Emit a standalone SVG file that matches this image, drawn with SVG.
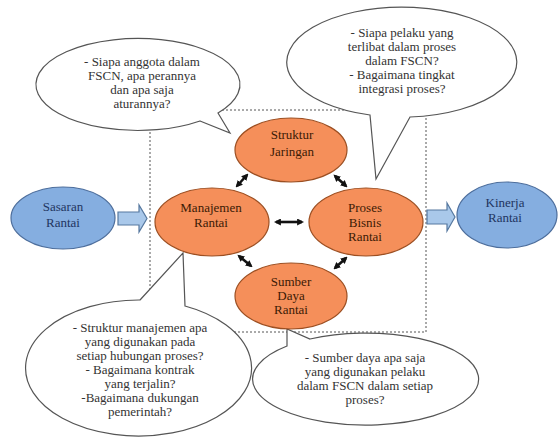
<svg xmlns="http://www.w3.org/2000/svg" width="558" height="438" viewBox="0 0 558 438">
<defs>
<marker id="ah" viewBox="0 0 10 10" refX="7" refY="5" markerUnits="userSpaceOnUse" markerWidth="7" markerHeight="7" orient="auto-start-reverse">
<path d="M0,0 L10,5 L0,10 z" fill="#111"/>
</marker>
<style>
.bubble{fill:#fff;stroke:#555;stroke-width:1.2}
.btxt{font-family:"Liberation Serif","Times New Roman",serif;font-size:13px;fill:#333;text-anchor:middle}
.org{fill:#f58f5a;stroke:#9c4f22;stroke-width:1.2}
.blu{fill:#85aee0;stroke:#4d6e9c;stroke-width:1.2}
.otxt{font-family:"Liberation Serif","Times New Roman",serif;font-size:13px;fill:#3b1a05;text-anchor:middle}
.bltxt{font-family:"Liberation Serif","Times New Roman",serif;font-size:13px;fill:#1f3560;text-anchor:middle}
.dbl{stroke:#111;stroke-width:2.6;fill:none;marker-start:url(#ah);marker-end:url(#ah)}
.blk{fill:#a9c8ea;stroke:#56789f;stroke-width:1.2}
</style>
</defs>
<rect id="boundary" x="150" y="110" width="276" height="222" fill="none" stroke="#555" stroke-width="1" stroke-dasharray="2,2"/>

<g id="callout-top-left">
<path class="bubble" d="M 200 121 L 230 133 L 218 113 A 102 46 0 1 0 200 121 Z"/>
<text class="btxt" x="142" y="66">- Siapa anggota dalam</text>
<text class="btxt" x="142" y="80">FSCN, apa perannya</text>
<text class="btxt" x="142" y="94">dan  apa saja</text>
<text class="btxt" x="142" y="108">aturannya?</text>
</g>

<g id="callout-top-right">
<path class="bubble" d="M 370 115 L 376 179 L 410 117 A 115 55 0 1 0 370 115 Z"/>
<text class="btxt" x="402" y="37">- Siapa pelaku yang</text>
<text class="btxt" x="402" y="51">terlibat dalam proses</text>
<text class="btxt" x="402" y="65">dalam FSCN?</text>
<text class="btxt" x="402" y="79">- Bagaimana tingkat</text>
<text class="btxt" x="402" y="93">integrasi proses?</text>
</g>

<g id="callout-bottom-left">
<path class="bubble" d="M 140 300 L 183 253 L 185 306 A 113 68 0 1 1 140 300 Z"/>
<text class="btxt" x="140" y="332">- Struktur manajemen apa</text>
<text class="btxt" x="140" y="346">yang digunakan pada</text>
<text class="btxt" x="140" y="360">setiap hubungan proses?</text>
<text class="btxt" x="140" y="374">- Bagaimana kontrak</text>
<text class="btxt" x="140" y="388">yang terjalin?</text>
<text class="btxt" x="140" y="402">-Bagaimana dukungan</text>
<text class="btxt" x="140" y="416">pemerintah?</text>
</g>

<g id="callout-bottom-right">
<path class="bubble" d="M 287 346 L 287 329 L 310 339 A 113 46 0 1 1 287 346 Z"/>
<text class="btxt" x="365" y="362">- Sumber daya apa saja</text>
<text class="btxt" x="365" y="376">yang digunakan pelaku</text>
<text class="btxt" x="365" y="390">dalam FSCN dalam setiap</text>
<text class="btxt" x="365" y="404">proses?</text>
</g>

<g id="connectors">
<path class="blk" d="M118,212 H139 V205 L147,218.5 L139,232 V225 H118 Z"/>
<path class="blk" d="M427,210 H447 V203 L455,217 L447,231 V224 H427 Z"/>
<line class="dbl" x1="237" y1="186" x2="247" y2="175"/>
<line class="dbl" x1="335" y1="176" x2="346" y2="186"/>
<line class="dbl" x1="276" y1="222" x2="302" y2="222"/>
<line class="dbl" x1="239" y1="256" x2="251" y2="266"/>
<line class="dbl" x1="346" y1="258" x2="335" y2="268"/>
</g>

<g id="sasaran-rantai">
<ellipse class="blu" cx="63" cy="218" rx="52" ry="31"/>
<text class="bltxt" x="63" y="211">Sasaran</text>
<text class="bltxt" x="63" y="227">Rantai</text>
</g>

<g id="struktur-jaringan">
<ellipse class="org" cx="291" cy="150" rx="56" ry="32"/>
<text class="otxt" x="292" y="139">Struktur</text>
<text class="otxt" x="292" y="156">Jaringan</text>
</g>

<g id="manajemen-rantai">
<ellipse class="org" cx="212" cy="222" rx="57" ry="34"/>
<text class="otxt" x="211" y="212">Manajemen</text>
<text class="otxt" x="211" y="227">Rantai</text>
</g>

<g id="proses-bisnis-rantai">
<ellipse class="org" cx="366" cy="222" rx="57" ry="34"/>
<text class="otxt" x="365" y="212">Proses</text>
<text class="otxt" x="365" y="227">Bisnis</text>
<text class="otxt" x="365" y="241">Rantai</text>
</g>

<g id="sumber-daya-rantai">
<ellipse class="org" cx="291" cy="296" rx="56" ry="33"/>
<text class="otxt" x="291" y="286">Sumber</text>
<text class="otxt" x="291" y="300">Daya</text>
<text class="otxt" x="291" y="314">Rantai</text>
</g>

<g id="kinerja-rantai">
<ellipse class="blu" cx="507" cy="215" rx="50" ry="33"/>
<text class="bltxt" x="505" y="207">Kinerja</text>
<text class="bltxt" x="505" y="222">Rantai</text>
</g>
</svg>
